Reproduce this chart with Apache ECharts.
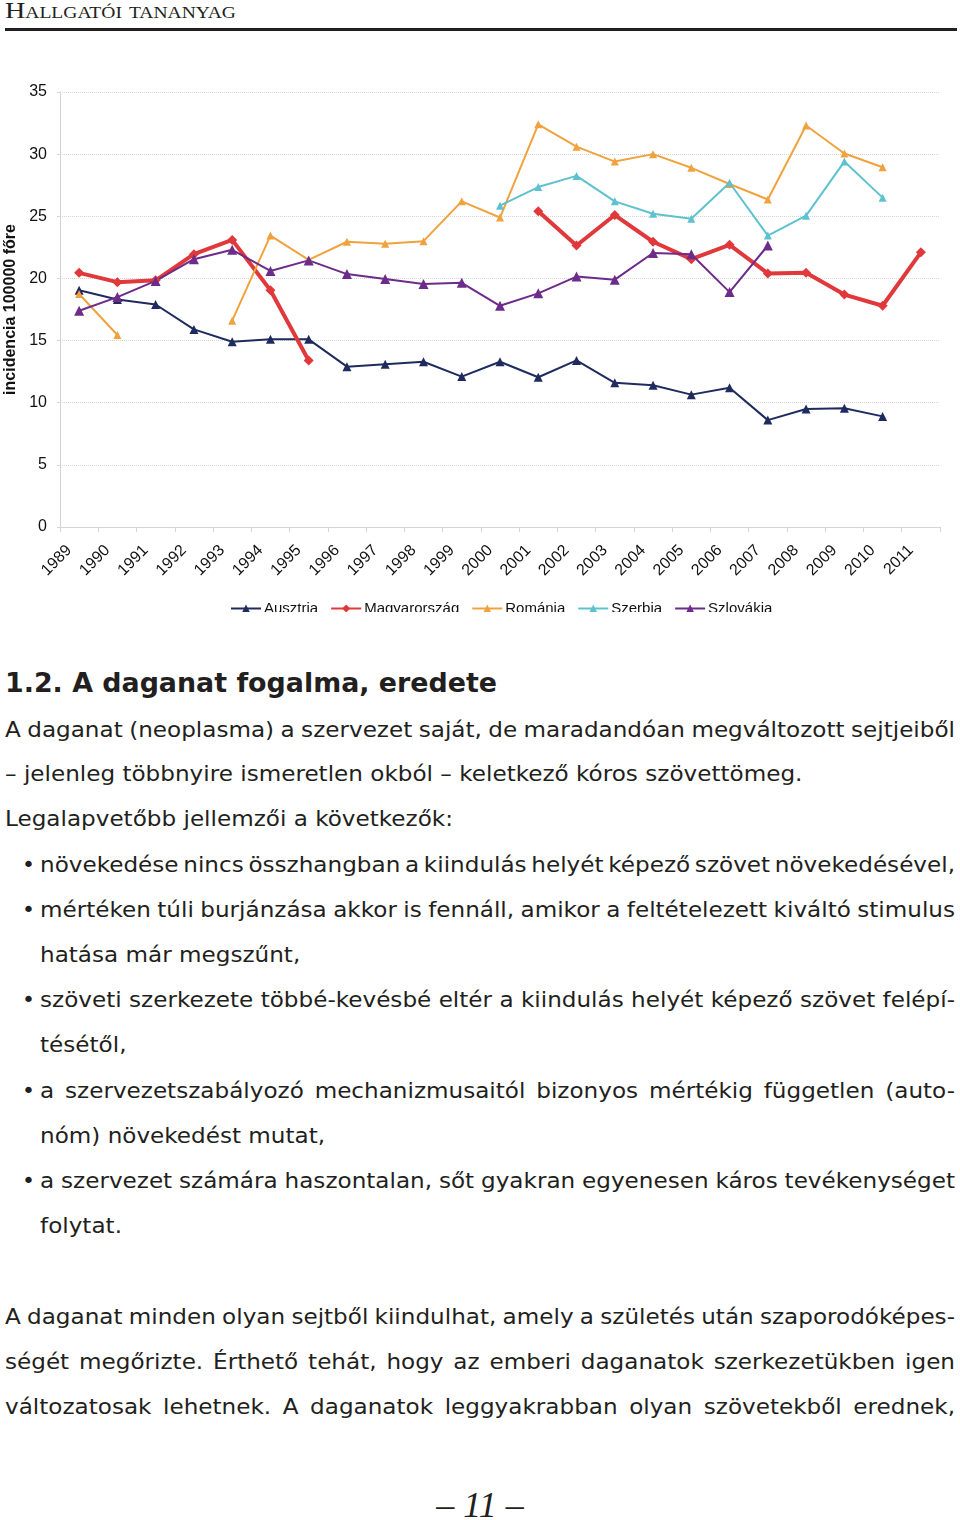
<!DOCTYPE html>
<html>
<head>
<meta charset="utf-8">
<script src="https://cdn.jsdelivr.net/npm/echarts@6/dist/echarts.min.js"></script>
<style>
  html, body { margin: 0; padding: 0; background: #fff; }
  body { width: 960px; height: 1520px; position: relative; overflow: hidden; color: #231f20; }
  #head { position: absolute; left: 5px; top: -2px; font-family: 'Liberation Serif'; font-size: 23px; font-variant: small-caps; white-space: nowrap; transform-origin: 0 0; }
  #rule { position: absolute; left: 5px; top: 28px; width: 952px; height: 3px; background: #231f20; }
  #chart { position: absolute; left: 0; top: 40px; width: 960px; height: 572px; }
  .ln { position: absolute; left: 5px; white-space: nowrap; font-family: 'DejaVu Sans'; font-size: 22px; line-height: 30px; transform-origin: 0 0; }
  .ln.b { left: 40px; }
  .dot { position: absolute; left: 22px; font-family: 'DejaVu Sans'; font-size: 22px; line-height: 30px; }
  #h2 { position: absolute; left: 5px; top: 666px; font-family: 'DejaVu Sans'; font-weight: bold; font-size: 27px; line-height: 34px; white-space: nowrap; transform-origin: 0 0; }
  #pg { position: absolute; left: 0; width: 960px; top: 1485px; text-align: center; font-family: 'Liberation Serif'; font-style: italic; font-size: 36px; line-height: 40px; }
</style>
</head>
<body>
<div id="head">Hallgatói tananyag</div>
<div id="rule"></div>
<div id="chart"></div>

<div id="h2">1.2. A daganat fogalma, eredete</div>

<div class="ln" data-j="950" style="top:715px">A daganat (neoplasma) a szervezet saját, de maradandóan megváltozott sejtjeiből</div>
<div class="ln" style="top:759px">– jelenleg többnyire ismeretlen okból – keletkező kóros szövettömeg.</div>
<div class="ln" id="calib" style="top:804px">Legalapvetőbb jellemzői a következők:</div>

<div class="dot" style="top:850px">•</div>
<div class="ln b" data-j="915" style="top:850px">növekedése nincs összhangban a kiindulás helyét képező szövet növekedésével,</div>
<div class="dot" style="top:895px">•</div>
<div class="ln b" data-j="915" style="top:895px">mértéken túli burjánzása akkor is fennáll, amikor a feltételezett kiváltó stimulus</div>
<div class="ln b" style="top:940px">hatása már megszűnt,</div>
<div class="dot" style="top:985px">•</div>
<div class="ln b" data-j="915" style="top:985px">szöveti szerkezete többé-kevésbé eltér a kiindulás helyét képező szövet felépí-</div>
<div class="ln b" style="top:1030px">tésétől,</div>
<div class="dot" style="top:1076px">•</div>
<div class="ln b" data-j="915" style="top:1076px">a szervezetszabályozó mechanizmusaitól bizonyos mértékig független (auto-</div>
<div class="ln b" style="top:1121px">nóm) növekedést mutat,</div>
<div class="dot" style="top:1166px">•</div>
<div class="ln b" data-j="915" style="top:1166px">a szervezet számára haszontalan, sőt gyakran egyenesen káros tevékenységet</div>
<div class="ln b" style="top:1211px">folytat.</div>

<div class="ln" data-j="950" style="top:1302px">A daganat minden olyan sejtből kiindulhat, amely a születés után szaporodóképes-</div>
<div class="ln" data-j="950" style="top:1347px">ségét megőrizte. Érthető tehát, hogy az emberi daganatok szerkezetükben igen</div>
<div class="ln" data-j="950" style="top:1392px">változatosak lehetnek. A daganatok leggyakrabban olyan szövetekből erednek,</div>

<div id="pg">– 11 –</div>

<script>
// chart data
const years = ['1989', '1990', '1991', '1992', '1993', '1994', '1995', '1996', '1997', '1998', '1999', '2000',
  '2001', '2002', '2003', '2004', '2005', '2006', '2007', '2008', '2009', '2010', '2011'];
const ausztria = [19.05, 18.3, 17.9, 15.9, 14.9, 15.1, 15.1, 12.9, 13.1, 13.3, 12.1, 13.3,
  12.05, 13.4, 11.6, 11.4, 10.65, 11.2, 8.6, 9.5, 9.55, 8.9, null];
const magyarorszag = [20.45, 19.7, 19.85, 21.95, 23.1, 19.05, 13.4, null, null, null, null, null,
  25.4, 22.65, 25.1, 22.95, 21.55, 22.7, 20.4, 20.45, 18.7, 17.8, 22.1];
const romania = [18.75, 15.45, null, null, 16.6, 23.45, 21.5, 22.95, 22.8, 23.0, 26.2, 24.9,
  32.4, 30.6, 29.4, 30.0, 28.9, 27.6, 26.35, 32.3, 30.05, 28.95, null];
const szerbia = [null, null, null, null, null, null, null, null, null, null, null, 25.85,
  27.35, 28.25, 26.2, 25.2, 24.8, 27.7, 23.45, 25.05, 29.4, 26.5, null];
const szlovakia = [17.4, 18.5, 19.8, 21.55, 22.3, 20.6, 21.45, 20.35, 19.95, 19.55, 19.65, 17.8,
  18.8, 20.15, 19.9, 22.05, 21.95, 18.9, 22.65, null, null, null, null];

function line(name, data, color, symbol, size, width) {
  return {
    name: name,
    type: 'line',
    data: data,
    symbol: symbol,
    symbolSize: size,
    showSymbol: true,
    lineStyle: { color: color, width: width },
    itemStyle: { color: color },
    emphasis: { disabled: true },
    animation: false
  };
}

let myChart = echarts.init(document.getElementById('chart'));
myChart.setOption({
  textStyle: { fontFamily: 'Liberation Sans' },
  grid: { left: 60, right: 20, top: 52, bottom: 85, outerBoundsMode: 'none', containLabel: false },
  legend: {
    left: 225,
    top: 556,
    itemWidth: 30,
    itemHeight: 10,
    itemGap: 12,
    textStyle: { fontSize: 15, color: '#111', padding: [0, 0, 0, -2] },
    data: ['Ausztria', 'Magyarország', 'Románia', 'Szerbia', 'Szlovákia']
  },
  xAxis: {
    type: 'category',
    data: years,
    boundaryGap: true,
    axisLine: { lineStyle: { color: '#d4d4d4' } },
    axisTick: { show: true, length: 5, lineStyle: { color: '#d4d4d4' } },
    axisLabel: { rotate: 45, fontSize: 16, color: '#111', margin: 11, interval: 0, padding: [0, 14, 0, 0] }
  },
  yAxis: {
    type: 'value',
    min: 0,
    max: 35,
    interval: 5,
    name: 'incidencia 100000 főre',
    nameLocation: 'middle',
    nameGap: 39,
    nameTextStyle: { fontSize: 16, fontWeight: 'bold', color: '#111' },
    axisLine: { show: true, lineStyle: { color: '#d4d4d4' } },
    axisTick: { show: true, length: 3, lineStyle: { color: '#d4d4d4' } },
    axisLabel: { fontSize: 16, color: '#111', margin: 13 },
    splitLine: { lineStyle: { color: '#d6d6d6', type: 'dotted', width: 1 } }
  },
  series: [
    line('Ausztria', ausztria, '#1f2b5e', 'triangle', 9, 2),
    line('Magyarország', magyarorszag, '#e0383b', 'diamond', 10, 4),
    line('Románia', romania, '#f0a23e', 'triangle', 8, 2),
    line('Szerbia', szerbia, '#5ec2ce', 'triangle', 8, 2),
    line('Szlovákia', szlovakia, '#6d2b8a', 'triangle', 10, 2)
  ]
});

// page text: squeeze horizontally like the printed page, justify the full lines
const calib = document.getElementById('calib');
const s = 448 / calib.getBoundingClientRect().width;
document.querySelectorAll('.ln').forEach(el => {
  const w = el.getBoundingClientRect().width;
  if (el.dataset.j) {
    const target = (+el.dataset.j) / s;
    const spaces = (el.textContent.match(/ /g) || []).length;
    el.style.wordSpacing = ((target - w) / spaces) + 'px';
  }
  el.style.transform = 'scaleX(' + s + ')';
});
const h2 = document.getElementById('h2');
h2.style.transform = 'scaleX(' + (492 / h2.getBoundingClientRect().width) + ')';
const head = document.getElementById('head');
head.style.transform = 'scaleX(' + (231 / head.getBoundingClientRect().width) + ')';
</script>
</body>
</html>
